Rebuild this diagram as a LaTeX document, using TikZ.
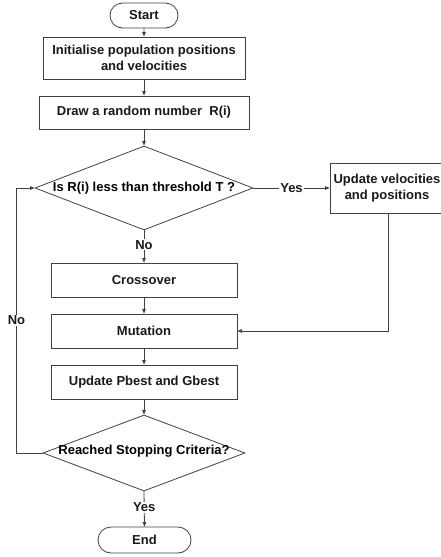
\documentclass[tikz,border=0pt]{standalone}
\usepackage{fontspec}
\setmainfont{Liberation Sans}
\usetikzlibrary{shapes.geometric,shapes.misc,arrows.meta}
\begin{document}
\begin{tikzpicture}[x=1pt,y=-1pt,
  font=\bfseries\fontsize{13}{15.5}\selectfont,
  line/.style={draw=black!75, line width=0.8pt},
  arr/.style={line, -{Triangle[length=4.5pt,width=3.5pt]}},
  proc/.style={draw=black!75, line width=0.8pt, rectangle, inner sep=0pt, align=center, text=black!90},
  term/.style={draw=black!75, line width=0.8pt, rounded rectangle, inner sep=0pt, text=black!90},
  dec/.style={draw=black!75, line width=0.8pt, diamond, inner sep=0pt, text=black!90},
  lbl/.style={fill=white, inner sep=1pt, text=black!90}]
\useasboundingbox (0,0) rectangle (440,557);
\node[term, minimum width=68pt, minimum height=25pt] (start) at (144,15.5) {Start};
\node[proc, minimum width=202pt, minimum height=42pt] (init) at (144,58) {Initialise population positions\\and velocities};
\node[proc, minimum width=210pt, minimum height=33pt] (draw) at (144,112.5) {Draw a random number\ \ R(i)};
\node[dec, minimum width=218pt, minimum height=84pt] (d1) at (144,188) {};
\node at (144,188) {Is R(i) less than threshold T ?};
\node[proc, minimum width=114pt, minimum height=50pt] (upd) at (387,188) {Update velocities\\and positions};
\node[proc, minimum width=186pt, minimum height=34pt] (cross) at (144,280) {Crossover};
\node[proc, minimum width=186pt, minimum height=34pt] (mut) at (144,331) {Mutation};
\node[proc, minimum width=186pt, minimum height=34pt] (pg) at (144,382) {Update Pbest and Gbest};
\node[dec, minimum width=202pt, minimum height=76pt] (d2) at (144,453) {};
\node at (144,451.5) {Reached Stopping Criteria?};
\node[term, minimum width=93pt, minimum height=26pt] (end) at (144.5,540) {End};
\coordinate (lt) at (16.5,188);
\coordinate (lb) at (16.5,453);
\coordinate (rc) at (388,331);
\draw[arr] (start) -- (init);
\draw[arr] (init) -- (draw);
\draw[arr] (draw) -- (d1);
\draw[arr] (d1.east) -- node[lbl] {Yes} (upd.west);
\draw[arr] (d1.south) -- node[lbl, pos=0.45] {No} (cross.north);
\draw[arr] (cross) -- (mut);
\draw[arr] (mut) -- (pg);
\draw[arr] (pg) -- (d2);
\draw[arr] (d2.south) -- node[lbl, pos=0.45] {Yes} (end.north);
\draw[arr] (d2.west) -- (lb) -- node[lbl, pos=0.5] {No} (lt) -- (d1.west);
\draw[arr] (upd.south -| rc) -- (rc) -- (mut.east);
\end{tikzpicture}
\end{document}
